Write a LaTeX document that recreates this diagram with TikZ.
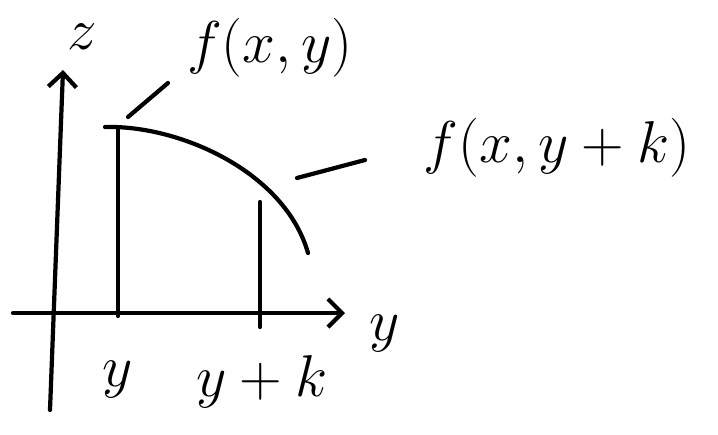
\documentclass[tikz,border=0pt]{standalone}
\usetikzlibrary{arrows.meta, positioning, calc}

\begin{document}
\begin{tikzpicture}[
    x=0.02cm, y=-0.02cm,
    pen/.style={
        line width=2.4pt, line cap=round, line join=round, draw=black
    },
    axis/.style={
        pen, -{Straight Barb[length=8pt, width=16pt, line width=2.4pt]}
    },
    lbl/.style={
        font=\Huge, scale=1.35, inner sep=1pt
    }
]
    \useasboundingbox (0,0) rectangle (718,434);

    % Axes
    \coordinate (zbot) at (50,410);
    \coordinate (ztop) at (63,70);
    \coordinate (yleft) at (13,313);
    \coordinate (yright) at (345,313);
    \draw[axis] (zbot) -- (ztop);
    \draw[axis] (yleft) -- (yright);
    \node[lbl] (zlab) at (82,37) {$z$};
    \node[lbl] (ylab) at (385,334) {$y$};

    % Curve z = f(x, .)
    \coordinate (ftop) at (105,127);
    \coordinate (fend) at (308,253);
    \draw[pen] (ftop) .. controls (180,125) and (285,172) .. (fend);

    % Ordinates at y and y+k
    \coordinate (p1top) at (118,127);
    \coordinate (p1bot) at (118,316);
    \coordinate (p2top) at (260,202);
    \coordinate (p2bot) at (260,327);
    \draw[pen] (p1top) -- (p1bot);
    \draw[pen] (p2top) -- (p2bot);
    \node[lbl] (yat) at (118,380) {$y$};
    \node[lbl] (ykat) at (262,382) {$y+k$};

    % Function labels with leaders
    \node[lbl] (fxy) at (270,48) {$f(x,y)$};
    \node[lbl] (fxyk) at (557,148) {$f(x,y+k)$};
    \coordinate (lead1a) at (128,117);
    \coordinate (lead1b) at (168,83);
    \coordinate (lead2a) at (297,178);
    \coordinate (lead2b) at (365,160);
    \draw[pen] (lead1a) -- (lead1b);
    \draw[pen] (lead2a) -- (lead2b);

\end{tikzpicture}
\end{document}
